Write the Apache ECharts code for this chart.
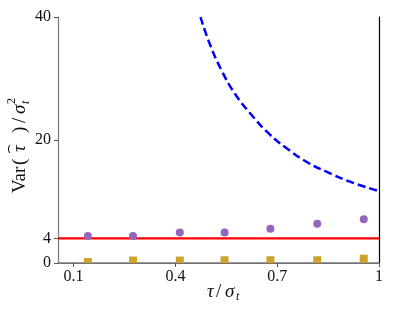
<!DOCTYPE html>
<html>
<head>
<meta charset="utf-8">
<script src="https://cdn.jsdelivr.net/npm/echarts@6/dist/echarts.min.js"></script>
<style>
    html, body { margin: 0; padding: 0; background: #fff; }
    #chart { width: 395px; height: 316px; }
</style>
</head>
<body>
<div id="chart"></div>
<script>
    'use strict';

    // 坐标轴刻度
    var xTicks = [0.1, 0.4, 0.7, 1];
    var yTicks = [0, 4, 20, 40];
    var xRange = [0.054, 1];

    // 紫色圆点
    var dotX = [0.142, 0.275, 0.413, 0.545, 0.68, 0.818, 0.955];
    var dotY = [4.38, 4.38, 4.96, 4.96, 5.56, 6.37, 7.13];

    // 金色方块
    var sqX = [0.142, 0.275, 0.413, 0.545, 0.68, 0.818, 0.955];
    var sqY = [0.15, 0.4, 0.4, 0.45, 0.45, 0.45, 0.7];

    // 蓝色虚线
    var curveX = [0.474, 0.501, 0.536, 0.575, 0.624, 0.678, 0.727, 0.786, 0.845, 0.914, 0.998];
    var curveY = [40, 35.66, 31.33, 27.55, 24.1, 20.9, 18.7, 16.47, 14.85, 13.23, 11.72];

    // 红色水平线
    var refY = 4;

    function zip(a, b) {
        var arr = [];
        for (var i = 0; i < a.length; i++) {
            arr.push([a[i], b[i]]);
        }
        return arr;
    }

    // 方块按绘图区裁剪
    function renderSquare(params, api) {
        var pt = api.coord([api.value(0), api.value(1)]),
            size = 8;
        var rect = echarts.graphic.clipRectByRect({
            x: pt[0] - size / 2,
            y: pt[1] - size / 2,
            width: size,
            height: size
        }, {
            x: params.coordSys.x,
            y: params.coordSys.y,
            width: params.coordSys.width,
            height: params.coordSys.height
        });
        return rect && {
            type: 'rect',
            shape: rect,
            style: {fill: '#cfa22e'}
        };
    }

    function txt(x, y, text, font) {
        return {
            type: 'text',
            x: x,
            y: y,
            style: {text: text, font: font, fill: '#111', textVerticalAlign: 'middle'}
        };
    }

    var serif = 'Liberation Serif';
    var myChart = echarts.init(document.getElementById('chart'));

    var option = {
        animation: false,
        grid: {left: 58, right: 16, top: 17, bottom: 53},
        xAxis: [{
            type: 'value',
            min: xRange[0],
            max: xRange[1],
            axisLine: {show: true, lineStyle: {color: '#666', width: 1.2}},
            axisTick: {show: true, length: 4, customValues: xTicks, lineStyle: {color: '#555'}},
            axisLabel: {
                customValues: xTicks, color: '#111', fontFamily: serif, fontSize: 16, margin: 6,
                formatter: function (v) { return String(Math.round(v * 10) / 10); }
            },
            splitLine: {show: false}
        }, {
            type: 'value',
            position: 'top',
            min: xRange[0],
            max: xRange[1],
            axisLine: {show: true, lineStyle: {color: '#777', width: 1.5}},
            axisTick: {show: false},
            axisLabel: {show: false},
            splitLine: {show: false}
        }],
        yAxis: [{
            type: 'value',
            min: 0,
            max: 40,
            axisLine: {show: true, lineStyle: {color: '#777', width: 1.2}},
            axisTick: {show: true, length: 4, customValues: yTicks, lineStyle: {color: '#555'}},
            axisLabel: {customValues: yTicks, color: '#111', fontFamily: serif, fontSize: 16, margin: 7},
            splitLine: {show: false}
        }, {
            type: 'value',
            position: 'right',
            min: 0,
            max: 40,
            axisLine: {show: true, lineStyle: {color: '#000', width: 1.2}},
            axisTick: {show: false},
            axisLabel: {show: false},
            splitLine: {show: false}
        }],
        graphic: [{
            type: 'group',
            x: 20,
            y: 146,
            rotation: Math.PI / 2,
            children: [
                txt(-47, 0, 'Var', '19px "Liberation Serif"'),
                txt(-19, 0, '(', '19px "Liberation Serif"'),
                txt(-6, 0, 'τ', 'italic 19px "Liberation Serif"'),
                txt(-8, -11, '⌢', '15px "DejaVu Serif"'),
                txt(13, 0, ')', '19px "Liberation Serif"'),
                txt(23, 0, '/', '19px "Liberation Serif"'),
                txt(32, 0, 'σ', 'italic 19px "Liberation Serif"'),
                txt(42, -8, '2', '12px "Liberation Serif"'),
                txt(42, 6, 't', 'italic 12px "Liberation Serif"')
            ]
        }, {
            type: 'group',
            x: 207,
            y: 292,
            children: [
                txt(0, 0, 'τ', 'italic 19px "Liberation Serif"'),
                txt(9, 0, '/', '19px "Liberation Serif"'),
                txt(18, 0, 'σ', 'italic 19px "Liberation Serif"'),
                txt(29, 5, 't', 'italic 12px "Liberation Serif"')
            ]
        }],
        series: [{
            name: 'ref',
            type: 'line',
            data: [[xRange[0], refY], [xRange[1], refY]],
            symbol: 'none',
            lineStyle: {color: '#ff0000', width: 2.2},
            z: 2
        }, {
            name: 'curve',
            type: 'line',
            data: zip(curveX, curveY),
            smooth: true,
            symbol: 'none',
            clip: true,
            lineStyle: {color: '#0000ff', width: 2.5, type: [8, 4]},
            z: 3
        }, {
            name: 'dots',
            type: 'scatter',
            data: zip(dotX, dotY),
            symbol: 'circle',
            symbolSize: 8,
            itemStyle: {color: '#9467bd', opacity: 1},
            z: 4
        }, {
            name: 'squares',
            type: 'custom',
            data: zip(sqX, sqY),
            renderItem: renderSquare,
            clip: true,
            z: 4
        }]
    };

    myChart.setOption(option);
</script>
</body>
</html>
